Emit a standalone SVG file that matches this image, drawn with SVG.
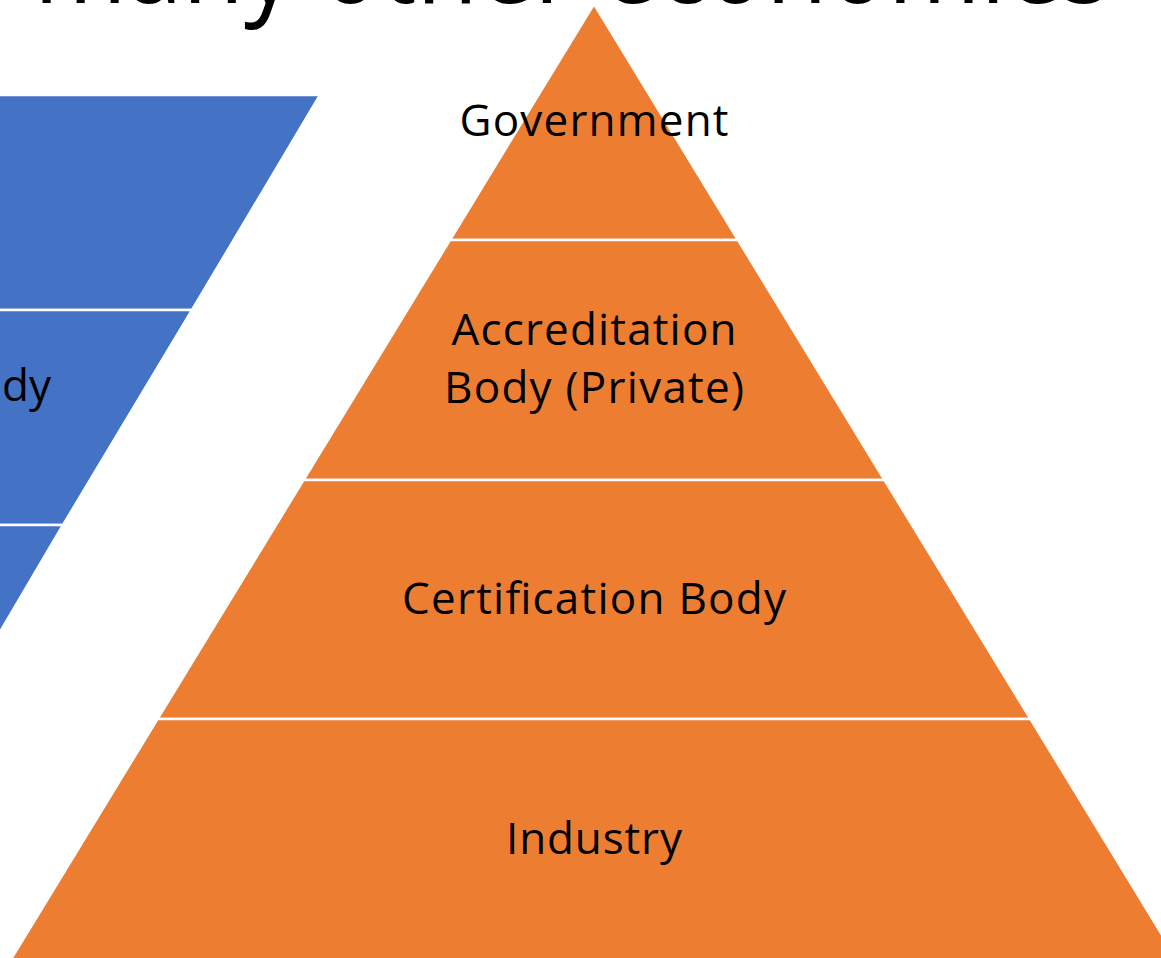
<svg xmlns="http://www.w3.org/2000/svg" width="1161" height="958" viewBox="0 0 1161 958">
<style>
.blue{fill:#4472C4;stroke:#FFFFFF;stroke-width:2.5;stroke-linejoin:miter}
.orange{fill:#ED7D31;stroke:#FFFFFF;stroke-width:2.5;stroke-linejoin:miter}
.lbl{font-family:"Open Sans","Noto Sans","Liberation Sans",sans-serif;font-size:44px;fill:#000000;text-anchor:middle}
.title{font-family:"Open Sans","Noto Sans","Liberation Sans",sans-serif;font-size:112px;fill:#000000}
</style>
<rect width="1161" height="958" fill="#FFFFFF"/>
<text class="title" x="34" y="3" textLength="1076" lengthAdjust="spacingAndGlyphs">many other economies</text>
<g id="blue-pyramid">
<g id="blue-layer-1"><polygon class="blue" points="-10,95 320,95 192,310 -10,310"/></g>
<g id="blue-layer-2"><polygon class="blue" points="-10,310 192,310 63,525 -10,525"/>
<text class="lbl" x="51" y="401" style="text-anchor:end">dy</text></g>
<g id="blue-layer-3"><polygon class="blue" points="-10,525 63,525 -40,700 -10,700"/></g>
</g>
<g id="orange-pyramid">
<g id="layer-government"><polygon class="orange" points="594,4 738,240 450,240"/>
<text class="lbl" x="594" y="136" textLength="269">Government</text></g>
<g id="layer-accreditation"><polygon class="orange" points="450,240 738,240 884.5,480 303.5,480"/>
<text class="lbl" x="594" y="345" textLength="285">Accreditation</text>
<text class="lbl" x="594" y="403" textLength="300">Body (Private)</text></g>
<g id="layer-certification"><polygon class="orange" points="303.5,480 884.5,480 1030.5,719 157.5,719"/>
<text class="lbl" x="594" y="614" textLength="384">Certification Body</text></g>
<g id="layer-industry"><polygon class="orange" points="157.5,719 1030.5,719 1178,961 10,961"/>
<text class="lbl" x="594" y="854" textLength="176">Industry</text></g>
</g>
<g id="connectors"/>
</svg>
